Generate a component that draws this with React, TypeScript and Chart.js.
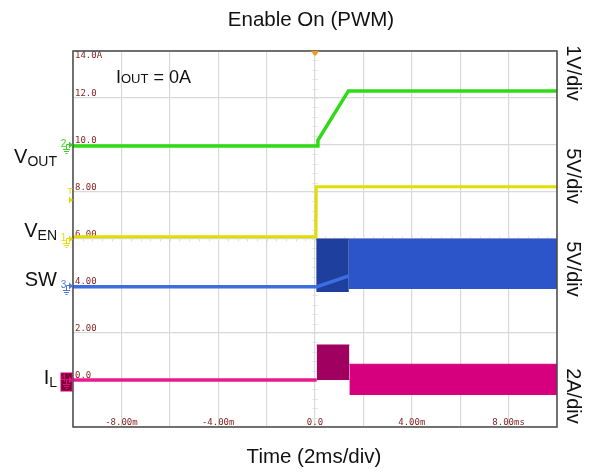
import { useEffect, useRef } from "react";
import { Chart, registerables } from "chart.js";

Chart.register(...registerables);

// ---- data (time in ms, values in screen-division units: 2 units per division) ----
const timeVout = [-10, 0.1, 0.12, 1.38, 10];
const vout = [9.96, 9.96, 10.2, 12.3, 12.3];

const timeVen = [-10, 0.04, 0.05, 10];
const ven = [6.1, 6.1, 8.22, 8.22];

const timeSw = [-10, 0.08, 1.4];
const sw = [3.97, 3.97, 4.43];
const timeSwBurst = [0.05, 1.4];
const swBurstHigh = [6.0, 6.0];
const swBurstLow = 3.75;
const timeSwBand = [1.4, 10];
const swBandHigh = [6.0, 6.0];
const swBandLow = 3.87;

const timeIl = [-10, 0.07];
const il = [0.0, 0.0];
const timeIlBurst = [0.07, 1.42];
const ilBurstHigh = [1.49, 1.49];
const ilBurstLow = 0.0;
const timeIlBand = [1.42, 10];
const ilBandHigh = [0.67, 0.67];
const ilBandLow = -0.64;

const yTickValues = [14, 12, 10, 8, 6, 4, 2, 0];
const yTickLabels = ["14.0A", "12.0", "10.0", "8.00", "6.00", "4.00", "2.00", "0.0"];
const xTickValues = [-8, -4, 0, 4, 8];
const xTickLabels = ["-8.00m", "-4.00m", "0.0", "4.00m", "8.00ms"];

const channelNames = ["1", "2", "3", "4"];
const channelLevels = [6, 10, 4, 0];
const channelColors = ["#e6dc00", "#3ad41a", "#4a78e0", "#e0107f"];
const triggerLevel = 7.66;

const rightLabels = ["1V/div", "5V/div", "5V/div", "2A/div"];
const leftLabelMain = ["V", "V", "SW", "I"];
const leftLabelSub = ["OUT", "EN", "", "L"];

const SANS = '"Liberation Sans", Arial, sans-serif';
const MONO = '"DejaVu Sans Mono", monospace';

function pts(t: number[], v: number[]) {
  return t.map((x, i) => ({ x, y: v[i] }));
}

const overlay = {
  id: "scopeOverlay",
  beforeDatasetsDraw(chart: any) {
    const ctx = chart.ctx;
    const xs = chart.scales.x;
    const ys = chart.scales.y;
    const a = chart.chartArea;
    ctx.save();
    // minor ticks on center lines
    ctx.strokeStyle = "#e0e0e0";
    ctx.lineWidth = 1;
    const cx = xs.getPixelForValue(0);
    for (let v = -2; v <= 14.001; v += 0.4) {
      const y = Math.round(ys.getPixelForValue(v)) + 0.5;
      ctx.beginPath();
      ctx.moveTo(cx - 2.5, y);
      ctx.lineTo(cx + 2.5, y);
      ctx.stroke();
    }
    const cy = ys.getPixelForValue(6);
    for (let t = -10; t <= 10.001; t += 0.4) {
      const x = Math.round(xs.getPixelForValue(t)) + 0.5;
      ctx.beginPath();
      ctx.moveTo(x, cy - 2.5);
      ctx.lineTo(x, cy + 2.5);
      ctx.stroke();
    }
    // tick labels inside the graticule
    ctx.fillStyle = "#882424";
    ctx.font = `9px ${MONO}`;
    ctx.textBaseline = "middle";
    ctx.textAlign = "left";
    yTickValues.forEach((v, i) => {
      const y = ys.getPixelForValue(v);
      const yy = v === 14 ? y + 4.5 : y - 4.5;
      ctx.fillText(yTickLabels[i], a.left + 2, yy);
    });
    ctx.textAlign = "center";
    xTickValues.forEach((t, i) => {
      ctx.fillText(xTickLabels[i], xs.getPixelForValue(t), a.bottom - 4.5);
    });
    ctx.restore();
  },
  afterDraw(chart: any) {
    const ctx = chart.ctx;
    const xs = chart.scales.x;
    const ys = chart.scales.y;
    const a = chart.chartArea;
    ctx.save();
    // frame
    ctx.strokeStyle = "#4a4a4a";
    ctx.lineWidth = 1.5;
    ctx.strokeRect(a.left, a.top, a.right - a.left, a.bottom - a.top);

    // trigger position marker
    const tx = xs.getPixelForValue(0);
    ctx.fillStyle = "#f59a1f";
    ctx.beginPath();
    ctx.moveTo(tx - 4, a.top);
    ctx.lineTo(tx + 4, a.top);
    ctx.lineTo(tx + 1, a.top + 4.5);
    ctx.lineTo(tx - 1, a.top + 4.5);
    ctx.closePath();
    ctx.fill();

    // channel markers
    channelLevels.forEach((lv, i) => {
      const y = ys.getPixelForValue(lv);
      const col = channelColors[i];
      if (i === 3) {
        ctx.fillStyle = "#7a0036";
        ctx.fillRect(a.left - 12, y - 7, 11, 18);
        ctx.strokeStyle = "#d0007a";
        ctx.lineWidth = 1;
        ctx.strokeRect(a.left - 12, y - 7, 11, 18);
      }
      ctx.fillStyle = col;
      ctx.strokeStyle = col;
      ctx.lineWidth = 1;
      ctx.font = `10px ${SANS}`;
      ctx.textAlign = "center";
      ctx.textBaseline = "middle";
      ctx.fillText(channelNames[i], a.left - 9.5, y - 1);
      ctx.beginPath();
      ctx.moveTo(a.left - 6.5, y + 4);
      ctx.lineTo(a.left - 6.5, y - 0.5);
      ctx.lineTo(a.left - 3.5, y - 0.5);
      ctx.stroke();
      ctx.beginPath();
      ctx.moveTo(a.left - 4, y - 3.5);
      ctx.lineTo(a.left, y);
      ctx.lineTo(a.left - 4, y + 3.5);
      ctx.closePath();
      ctx.fill();
      // ground
      ctx.beginPath();
      ctx.moveTo(a.left - 10, y + 4.5);
      ctx.lineTo(a.left - 3, y + 4.5);
      ctx.moveTo(a.left - 9, y + 6.5);
      ctx.lineTo(a.left - 4, y + 6.5);
      ctx.moveTo(a.left - 7.5, y + 8.5);
      ctx.lineTo(a.left - 5.5, y + 8.5);
      ctx.stroke();
    });
    // trigger level marker
    {
      const y = ys.getPixelForValue(triggerLevel);
      ctx.fillStyle = channelColors[0];
      ctx.strokeStyle = channelColors[0];
      ctx.beginPath();
      ctx.moveTo(a.left - 4, y - 3.5);
      ctx.lineTo(a.left, y);
      ctx.lineTo(a.left - 4, y + 3.5);
      ctx.closePath();
      ctx.fill();
      ctx.font = `9px ${SANS}`;
      ctx.textAlign = "center";
      ctx.fillText("T", a.left - 3, y - 8);
    }

    // title and axis label
    ctx.fillStyle = "#111";
    ctx.textAlign = "center";
    ctx.textBaseline = "middle";
    ctx.font = `20.5px ${SANS}`;
    ctx.fillText("Enable On (PWM)", 311, 20);
    ctx.fillText("Time (2ms/div)", 314, 457);

    // right labels (rotated)
    const rightCenters = [73, 176, 269, 396];
    ctx.font = `20px ${SANS}`;
    rightLabels.forEach((t, i) => {
      ctx.save();
      ctx.translate(572.5, rightCenters[i]);
      ctx.rotate(Math.PI / 2);
      ctx.textAlign = "center";
      ctx.textBaseline = "middle";
      ctx.fillText(t, 0, 0);
      ctx.restore();
    });

    // left labels with subscripts
    const leftBaselines = [163, 237, 286, 384];
    ctx.textBaseline = "alphabetic";
    ctx.textAlign = "left";
    leftLabelMain.forEach((m, i) => {
      ctx.font = `20px ${SANS}`;
      const mw = ctx.measureText(m).width;
      ctx.font = `14px ${SANS}`;
      const sw2 = leftLabelSub[i] ? ctx.measureText(leftLabelSub[i]).width : 0;
      const right = 57;
      const x0 = right - mw - sw2;
      ctx.font = `20px ${SANS}`;
      ctx.fillText(m, x0, leftBaselines[i]);
      if (leftLabelSub[i]) {
        ctx.font = `14px ${SANS}`;
        ctx.fillText(leftLabelSub[i], x0 + mw, leftBaselines[i] + 2.5);
      }
    });

    // IOUT annotation
    {
      let x = 116;
      const yb = 83;
      ctx.font = `18px ${SANS}`;
      ctx.fillText("I", x, yb);
      x += ctx.measureText("I").width;
      ctx.font = `13px ${SANS}`;
      ctx.fillText("OUT", x, yb);
      x += ctx.measureText("OUT").width;
      ctx.font = `18px ${SANS}`;
      ctx.fillText(" = 0A", x, yb);
    }
    ctx.restore();
  },
};

export default function App() {
  const ref = useRef<HTMLCanvasElement | null>(null);
  useEffect(() => {
    if (!ref.current) return;
    const line = (data: any, color: string, width: number) => ({
      type: "line",
      data,
      borderColor: color,
      borderWidth: width,
      pointRadius: 0,
      fill: false,
      tension: 0,
    });
    const band = (data: any, color: string, low: number) => ({
      type: "line",
      data,
      borderColor: color,
      backgroundColor: color,
      borderWidth: 1,
      pointRadius: 0,
      fill: { value: low },
      tension: 0,
    });
    const chart = new Chart(ref.current, {
      type: "line",
      data: {
        datasets: [
          line(pts(timeVout, vout), "#2fda16", 3.5),
          line(pts(timeVen, ven), "#e3dc00", 3),
          line(pts(timeSw, sw), "#3d6ee0", 3.5),
          line(pts(timeIl, il), "#ea1a8c", 3.5),
          band(pts(timeSwBurst, swBurstHigh), "#1f3f9e", swBurstLow),
          band(pts(timeSwBand, swBandHigh), "#2b55c8", swBandLow),
          band(pts(timeIlBurst, ilBurstHigh), "#a00060", ilBurstLow),
          band(pts(timeIlBand, ilBandHigh), "#d6007f", ilBandLow),
        ] as any,
      },
      options: {
        animation: false,
        responsive: false,
        maintainAspectRatio: false,
        layout: { padding: { left: 73, right: 35, top: 51, bottom: 45 } },
        plugins: { legend: { display: false }, tooltip: { enabled: false }, title: { display: false } },
        scales: {
          x: {
            type: "linear",
            min: -10,
            max: 10,
            ticks: { display: false, stepSize: 2 },
            grid: { color: "#d9d9d9", lineWidth: 1.2, drawTicks: false },
            border: { display: false },
          },
          y: {
            type: "linear",
            min: -2,
            max: 14,
            ticks: { display: false, stepSize: 2 },
            grid: { color: "#d9d9d9", lineWidth: 1.2, drawTicks: false },
            border: { display: false },
          },
        },
      } as any,
      plugins: [overlay],
    });
    return () => chart.destroy();
  }, []);
  return (
    <div style={{ position: "fixed", left: 0, top: 0, width: 592, height: 472, background: "#fff" }}>
      <canvas ref={ref} width={592} height={472} style={{ display: "block" }} />
    </div>
  );
}
